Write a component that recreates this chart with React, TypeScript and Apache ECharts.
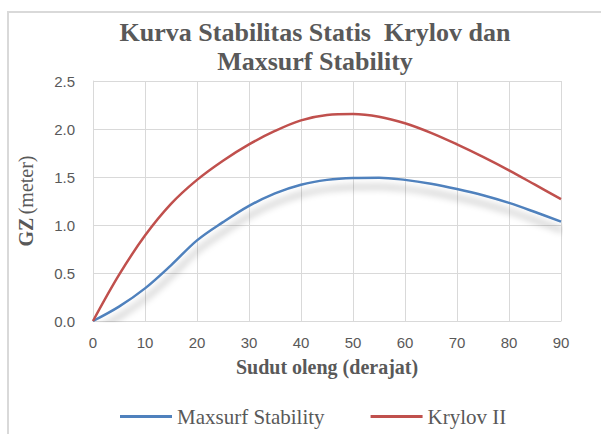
import React, { useEffect, useRef } from "react";
import * as echarts from "echarts";

const angles = [0, 5, 10, 15, 20, 25, 30, 35, 40, 45, 50, 55, 60, 65, 70, 75, 80, 85, 90];
const maxsurf = [0, 0.15, 0.34, 0.58, 0.84, 1.03, 1.2, 1.33, 1.42, 1.47, 1.49, 1.493, 1.47, 1.43, 1.375, 1.31, 1.23, 1.135, 1.035];
const krylov = [0, 0.48, 0.89, 1.22, 1.47, 1.67, 1.84, 1.98, 2.09, 2.146, 2.156, 2.128, 2.06, 1.96, 1.84, 1.71, 1.57, 1.42, 1.27];
const seriesNames = ["Maxsurf Stability", "Krylov II"];
const titleText = "Kurva Stabilitas Statis  Krylov dan\nMaxsurf Stability";
const xName = "Sudut oleng (derajat)";

export default function App() {
  const ref = useRef<HTMLDivElement>(null);
  useEffect(() => {
    document.body.style.margin = "0";
    const chart = echarts.init(ref.current!, null, { renderer: "svg" });
    const serif = "'Liberation Serif', 'Times New Roman', serif";
    const sans = "'Liberation Sans', Arial, sans-serif";
    const grey = "#595959";
    chart.setOption({
      animation: false,
      backgroundColor: "#ffffff",
      graphic: [
        {
          type: "rect",
          shape: { x: 8, y: 12, width: 800, height: 600 },
          style: { fill: "none", stroke: "#d9d9d9", lineWidth: 2 },
          silent: true,
        },
        {
          type: "text",
          x: 315,
          y: 18,
          style: {
            text: titleText,
            align: "center",
            verticalAlign: "top",
            fontFamily: serif,
            fontWeight: "bold",
            fontSize: 26,
            lineHeight: 29,
            fill: grey,
          },
        },
      ],
      legend: {
        top: 401,
        left: 115,
        icon: "rect",
        itemWidth: 52,
        itemHeight: 3,
        itemGap: 46,
        textStyle: { fontFamily: serif, fontSize: 21, color: grey },
        data: seriesNames,
      },
      grid: { left: 93, right: 40, top: 81, bottom: 113 },
      xAxis: {
        type: "value",
        min: 0,
        max: 90,
        interval: 10,
        name: xName,
        nameLocation: "middle",
        nameGap: 36,
        nameTextStyle: { fontFamily: serif, fontWeight: "bold", fontSize: 20, color: grey },
        axisLine: { show: true, lineStyle: { color: "#d9d9d9", width: 1 } },
        axisTick: { show: false },
        axisLabel: { fontFamily: sans, fontSize: 15, color: grey, margin: 14 },
        splitLine: { show: true, lineStyle: { color: "#d9d9d9", width: 1 } },
      },
      yAxis: {
        type: "value",
        min: 0,
        max: 2.5,
        interval: 0.5,
        name: "{b|GZ} {n|(meter)}",
        nameLocation: "middle",
        nameGap: 57,
        nameRotate: 90,
        nameTextStyle: {
          color: grey,
          rich: {
            b: { fontFamily: serif, fontWeight: "bold", fontSize: 20, color: grey },
            n: { fontFamily: serif, fontSize: 20, color: grey },
          },
        },
        axisLine: { show: true, lineStyle: { color: "#d9d9d9", width: 1 } },
        axisTick: { show: false },
        axisLabel: {
          fontFamily: sans,
          fontSize: 15,
          color: grey,
          margin: 18,
          formatter: (v: number) => v.toFixed(1),
        },
        splitLine: { show: true, lineStyle: { color: "#d9d9d9", width: 1 } },
      },
      series: [
        {
          name: seriesNames[0],
          type: "line",
          smooth: 0.35,
          symbol: "none",
          data: angles.map((a, i) => [a, maxsurf[i]]),
          itemStyle: { color: "#4F81BD" },
          lineStyle: {
            color: "#4F81BD",
            width: 2.5,
            shadowColor: "rgba(0,0,0,0.35)",
            shadowBlur: 7,
            shadowOffsetX: 2,
            shadowOffsetY: 9,
          },
          z: 2,
        },
        {
          name: seriesNames[1],
          type: "line",
          smooth: 0.35,
          symbol: "none",
          data: angles.map((a, i) => [a, krylov[i]]),
          itemStyle: { color: "#C0504D" },
          lineStyle: { color: "#C0504D", width: 2.5 },
          z: 3,
        },
      ],
    });
    return () => chart.dispose();
  }, []);
  return <div ref={ref} style={{ width: 601, height: 434 }} />;
}
